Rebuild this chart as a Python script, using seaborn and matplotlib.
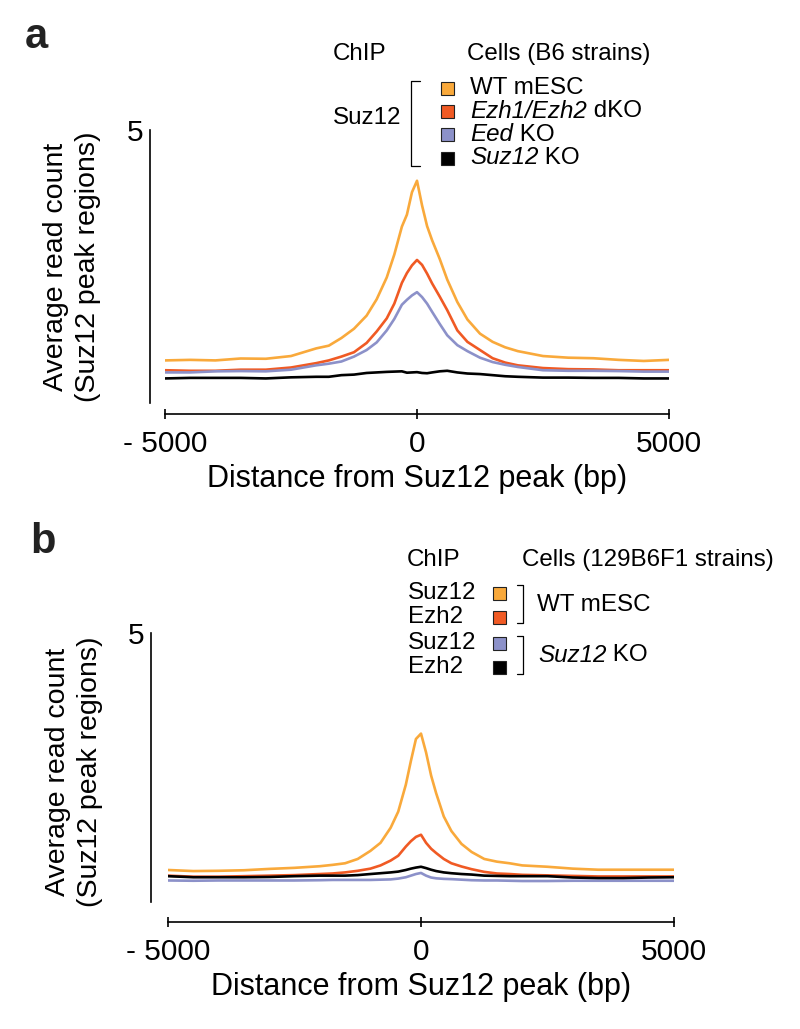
import numpy as np
import pandas as pd
import matplotlib
matplotlib.use("Agg")
import matplotlib.pyplot as plt
import seaborn as sns
from matplotlib.patches import Rectangle

# ==================== data ====================
positions = [-5000, -4500, -4000, -3500, -3000, -2500, -2000, -1750, -1500, -1250,
             -1000, -800, -600, -450, -300, -200, -100, 0, 100, 200, 300, 450,
             600, 800, 1000, 1250, 1500, 1750, 2000, 2500, 3000, 3500, 4000, 4500, 5000]

# panel a : Suz12 ChIP in B6 strains
a_wt = [0.78, 0.79, 0.78, 0.815, 0.81, 0.86, 1.00, 1.05, 1.19, 1.36,
        1.60, 1.90, 2.30, 2.72, 3.23, 3.45, 3.86, 4.07, 3.62, 3.24, 2.98, 2.64,
        2.26, 1.85, 1.53, 1.27, 1.12, 1.02, 0.95, 0.86, 0.83, 0.82, 0.79, 0.77, 0.79]
a_dko = [0.60, 0.59, 0.59, 0.61, 0.61, 0.65, 0.73, 0.78, 0.85, 0.93,
         1.10, 1.31, 1.55, 1.82, 2.20, 2.38, 2.52, 2.62, 2.53, 2.37, 2.19, 1.95,
         1.70, 1.33, 1.12, 0.97, 0.82, 0.74, 0.69, 0.64, 0.62, 0.615, 0.60, 0.60, 0.60]
a_eed = [0.56, 0.56, 0.58, 0.585, 0.58, 0.61, 0.69, 0.72, 0.76, 0.85,
         0.97, 1.11, 1.33, 1.54, 1.80, 1.89, 1.97, 2.03, 1.94, 1.82, 1.67, 1.45,
         1.24, 1.06, 0.95, 0.83, 0.75, 0.70, 0.66, 0.60, 0.59, 0.59, 0.585, 0.575, 0.575]
a_suz12ko = [0.45, 0.46, 0.46, 0.46, 0.45, 0.47, 0.48, 0.48, 0.51, 0.52,
             0.55, 0.56, 0.57, 0.575, 0.58, 0.555, 0.56, 0.565, 0.55, 0.545, 0.56, 0.58,
             0.59, 0.56, 0.54, 0.53, 0.51, 0.49, 0.48, 0.465, 0.465, 0.46, 0.46, 0.45, 0.45]

# panel b : 129B6F1 strains
b_wt_suz12 = [0.595, 0.575, 0.58, 0.59, 0.615, 0.635, 0.665, 0.69, 0.72, 0.80,
              0.95, 1.10, 1.38, 1.68, 2.18, 2.62, 3.03, 3.13, 2.78, 2.35, 2.02, 1.59,
              1.32, 1.08, 0.93, 0.80, 0.75, 0.72, 0.68, 0.655, 0.62, 0.60, 0.60, 0.60, 0.60]
b_wt_ezh2 = [0.49, 0.47, 0.47, 0.48, 0.49, 0.50, 0.52, 0.53, 0.55, 0.58,
             0.62, 0.68, 0.77, 0.86, 1.03, 1.13, 1.21, 1.25, 1.10, 0.99, 0.91, 0.80,
             0.72, 0.66, 0.61, 0.56, 0.53, 0.52, 0.505, 0.495, 0.485, 0.475, 0.475, 0.475, 0.475]
b_ko_suz12 = [0.40, 0.395, 0.40, 0.40, 0.40, 0.40, 0.405, 0.41, 0.41, 0.41,
              0.41, 0.415, 0.42, 0.435, 0.46, 0.49, 0.52, 0.54, 0.49, 0.455, 0.44, 0.43,
              0.425, 0.415, 0.405, 0.40, 0.40, 0.395, 0.39, 0.39, 0.395, 0.395, 0.395, 0.395, 0.395]
b_ko_ezh2 = [0.48, 0.46, 0.46, 0.46, 0.465, 0.48, 0.49, 0.49, 0.49, 0.50,
             0.52, 0.535, 0.55, 0.565, 0.595, 0.62, 0.64, 0.655, 0.63, 0.60, 0.575, 0.55,
             0.535, 0.52, 0.51, 0.49, 0.485, 0.48, 0.48, 0.48, 0.455, 0.445, 0.445, 0.455, 0.46]

xtick_values = [-5000, 0, 5000]
xtick_labels = ["- 5000", "0", "5000"]

colors = ["#F9A93B", "#F05A24", "#8C91C9", "#000000"]

a_series = ["WT mESC", "Ezh1/Ezh2 dKO", "Eed KO", "Suz12 KO"]
b_series = ["WT Suz12", "WT Ezh2", "KO Suz12", "KO Ezh2"]


def long_table(names, arrays):
    rows = []
    for n, arr in zip(names, arrays):
        rows.append(pd.DataFrame({"pos": positions, "value": arr, "series": n}))
    return pd.concat(rows, ignore_index=True)


df_a = long_table(a_series, [a_wt, a_dko, a_eed, a_suz12ko])
df_b = long_table(b_series, [b_wt_suz12, b_wt_ezh2, b_ko_suz12, b_ko_ezh2])

# ==================== style ====================
sns.set_style("white")
plt.rcParams['font.family'] = ['Liberation Sans', 'DejaVu Sans']
plt.rcParams['text.color'] = 'black'
plt.rcParams['axes.labelcolor'] = 'black'
plt.rcParams['xtick.color'] = 'black'
plt.rcParams['ytick.color'] = 'black'

W, H = 800, 1029
fig = plt.figure(figsize=(W / 100, H / 100), dpi=100)


def px_axes(left, right, top, bottom):
    return fig.add_axes([left / W, 1 - bottom / H, (right - left) / W, (bottom - top) / H])


def style_axes(ax, left_out, bottom_out, ylab_y):
    ax.set_xlim(-5000, 5000)
    ax.set_ylim(0, 5)
    for s in ["top", "right"]:
        ax.spines[s].set_visible(False)
    ax.spines["left"].set_position(("outward", left_out * 0.72))
    ax.spines["bottom"].set_position(("outward", bottom_out * 0.72))
    for s in ["left", "bottom"]:
        ax.spines[s].set_linewidth(1.2)
        ax.spines[s].set_color("black")
    ax.set_xticks(xtick_values)
    ax.set_xticklabels(xtick_labels)
    ax.set_yticks([5])
    ax.set_yticklabels(["5"])
    ax.tick_params(axis="x", bottom=True, direction="inout", length=7.2, width=1.2,
                   labelsize=21.5, pad=8, colors="black")
    ax.tick_params(axis="y", left=False, length=0, labelsize=21.5, pad=5, colors="black")
    ax.set_xlabel("Distance from Suz12 peak (bp)", fontsize=22, labelpad=4, color="black")
    ax.set_ylabel("Average read count\n(Suz12 peak regions)", fontsize=20.5,
                  va="center", linespacing=1.3, color="black")
    ax.yaxis.set_label_coords(ylab_y[0], ylab_y[1])
    ax.patch.set_alpha(0)


# ==================== panel a ====================
ax_a = px_axes(165, 669, 130, 403)
sns.lineplot(data=df_a, x="pos", y="value", hue="series", hue_order=a_series,
             palette=dict(zip(a_series, colors)), legend=False, linewidth=1.9,
             errorbar=None, ax=ax_a)
style_axes(ax_a, 15, 11, (-0.185, 0.5))

# ==================== panel b ====================
ax_b = px_axes(168, 674, 633, 902)
sns.lineplot(data=df_b, x="pos", y="value", hue="series", hue_order=b_series,
             palette=dict(zip(b_series, colors)), legend=False, linewidth=1.9,
             errorbar=None, ax=ax_b)
style_axes(ax_b, 17, 20, (-0.185, 0.483))

# ==================== legends / labels in pixel coords ====================
ov = fig.add_axes([0, 0, 1, 1])
ov.set_xlim(0, W)
ov.set_ylim(H, 0)
ov.axis("off")
ov.patch.set_alpha(0)

fs_leg = 17.4
renderer = fig.canvas.get_renderer()


def mixed_text(x, y, parts):
    # parts: list of (text, italic) drawn one after another
    for txt, ital in parts:
        t = ov.text(x, y, txt, fontsize=fs_leg, va="center", ha="left", color="black",
                    fontstyle="italic" if ital else "normal")
        bb = t.get_window_extent(renderer=renderer)
        x = x + bb.width * W / fig.bbox.width


ov.text(25, 48, "a", fontsize=30, fontweight="bold", va="baseline", ha="left", color="#222222")
ov.text(30, 553, "b", fontsize=30, fontweight="bold", va="baseline", ha="left", color="#222222")

# legend a
ov.text(333, 54, "ChIP", fontsize=fs_leg, va="center", ha="left")
ov.text(467, 54, "Cells (B6 strains)", fontsize=fs_leg, va="center", ha="left")
ov.text(333, 118, "Suz12", fontsize=fs_leg, va="center", ha="left")
ov.plot([420, 411, 411, 420], [81, 81, 166, 166], color="black", lw=0.9)
a_leg_y = [88, 111.3, 134.7, 158]
a_leg_txt = [[("WT mESC", False)],
             [("Ezh1/Ezh2", True), (" dKO", False)],
             [("Eed", True), (" KO", False)],
             [("Suz12", True), (" KO", False)]]
for yy, c, parts in zip(a_leg_y, colors, a_leg_txt):
    ov.add_patch(Rectangle((441, yy - 6.5), 13, 13, facecolor=c, edgecolor="#222222", lw=0.8))
    mixed_text(470, yy, parts)

# legend b
ov.text(407, 560, "ChIP", fontsize=fs_leg, va="center", ha="left")
ov.text(522, 560, "Cells (129B6F1 strains)", fontsize=fs_leg, va="center", ha="left")
b_leg_y = [593, 617, 643, 667]
for yy, c, t in zip(b_leg_y, colors, ["Suz12", "Ezh2", "Suz12", "Ezh2"]):
    ov.add_patch(Rectangle((493, yy - 6.5), 13, 13, facecolor=c, edgecolor="#222222", lw=0.8))
    ov.text(408, yy, t, fontsize=fs_leg, va="center", ha="left")
ov.plot([517, 523, 523, 517], [585, 585, 623, 623], color="black", lw=0.9)
ov.plot([517, 523, 523, 517], [636, 636, 674, 674], color="black", lw=0.9)
ov.text(537, 605, "WT mESC", fontsize=fs_leg, va="center", ha="left")
mixed_text(538, 655, [("Suz12", True), (" KO", False)])

fig.savefig("out.png", dpi=100, facecolor="white")
